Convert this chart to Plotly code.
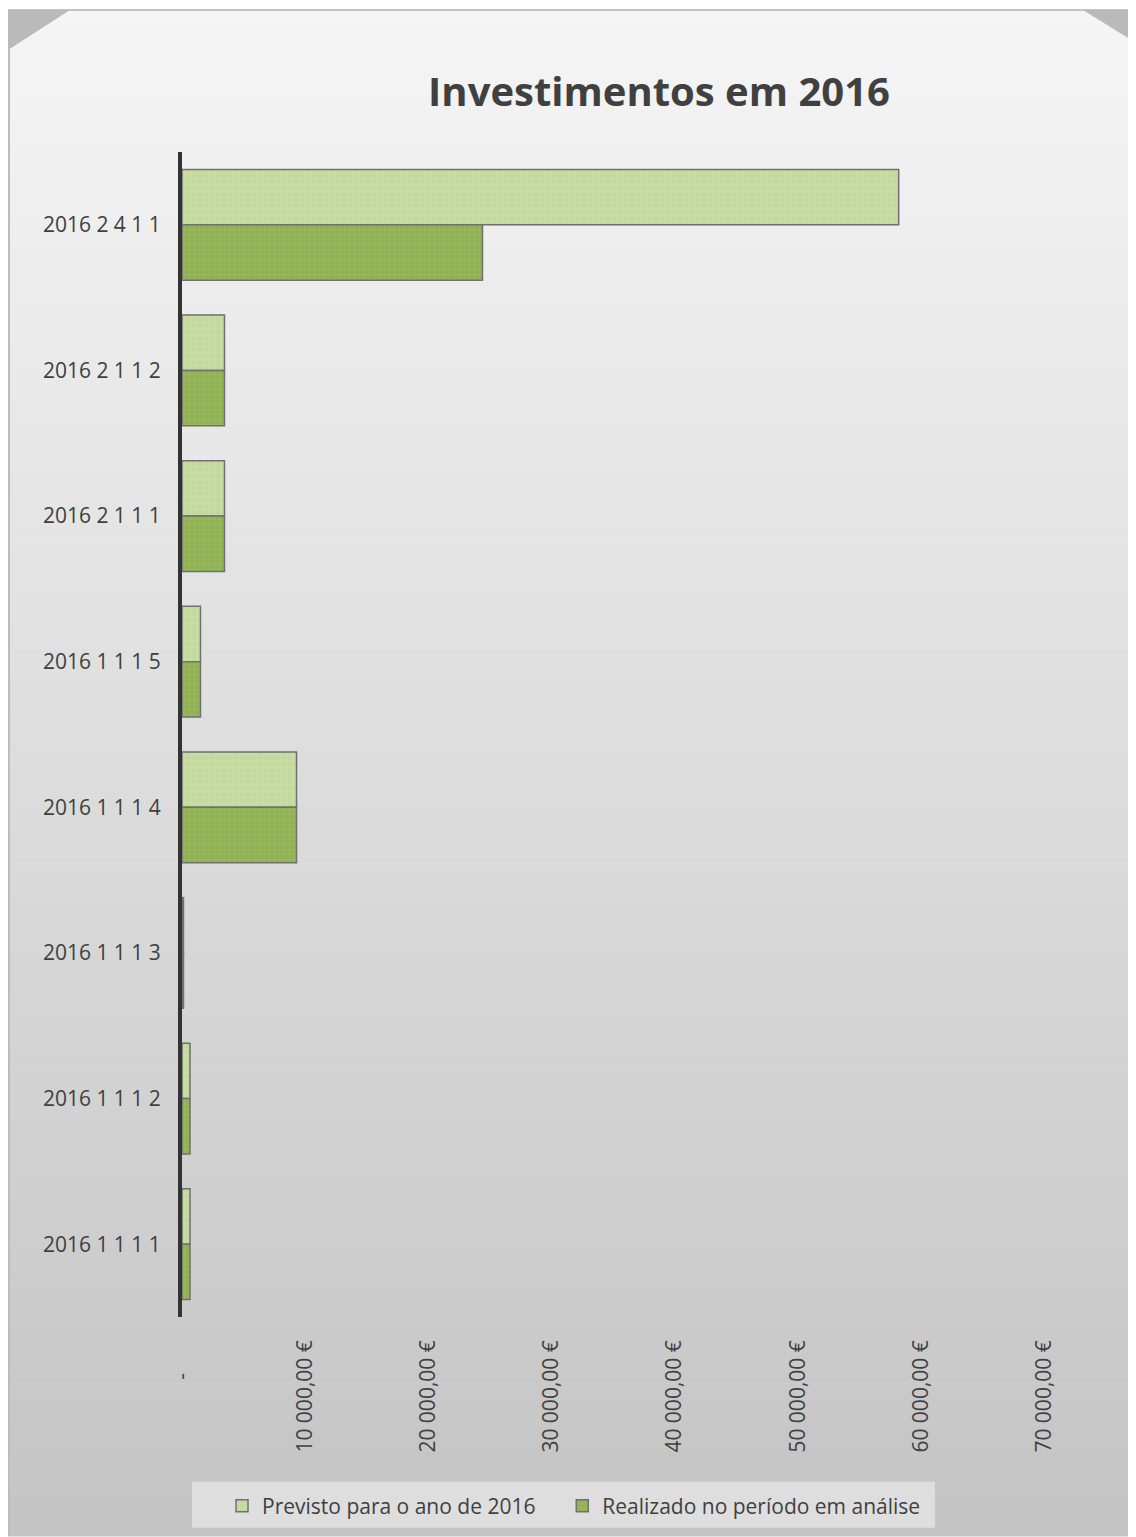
import plotly.graph_objects as go

categories = ["2016 2 4 1 1", "2016 2 1 1 2", "2016 2 1 1 1", "2016 1 1 1 5",
              "2016 1 1 1 4", "2016 1 1 1 3", "2016 1 1 1 2", "2016 1 1 1 1"]
previsto = [58200, 3450, 3450, 1500, 9300, 120, 650, 650]
realizado = [24400, 3450, 3450, 1500, 9300, 120, 650, 650]
tick_vals = [0, 10000, 20000, 30000, 40000, 50000, 60000, 70000]
tick_text = ["-\u00a0\u00a0\u00a0\u00a0\u00a0\u00a0", "10 000,00 €", "20 000,00 €", "30 000,00 €",
             "40 000,00 €", "50 000,00 €", "60 000,00 €", "70 000,00 €"]
series_names = ["Previsto para o ano de 2016", "Realizado no período em análise"]

# page body has an 8px default margin: figure is offset by OFF in the window
OFF = 8
W, H = 1136 - OFF, 1537 - OFF
ML, MR, MT, MB = 182 - OFF, 92, 152 - OFF, 219
PW, PH = W - ML - MR, H - MT - MB


def px(x):
    """window x pixel -> paper x"""
    return (x - OFF - ML) / PW


def py(y):
    """window y pixel -> paper y"""
    return (H - MB - (y - OFF)) / PH


FONT = "Open Sans"
TXT = "#404040"

fig = go.Figure()
fig.add_trace(go.Bar(
    y=categories, x=previsto, orientation="h",
    name=series_names[0] + "\u00a0" * 4,
    marker=dict(color="#c3d89c", line=dict(color="#707070", width=1.5),
                pattern=dict(shape="+", size=6, solidity=0.12, fgcolor="#ffffff", fgopacity=0.35)),
))
fig.add_trace(go.Bar(
    y=categories, x=realizado, orientation="h", name=series_names[1],
    marker=dict(color="#90b253", line=dict(color="#707070", width=1.5),
                pattern=dict(shape="+", size=5, solidity=0.12, fgcolor="#d8e6bd", fgopacity=0.35)),
))

shapes = []
# background gradient
y0, y1 = 10, 1537
n = 110
step = (y1 - y0) / n
for i in range(n):
    t = (i + 0.5) / n
    v = round(245 - (245 - 196) * t)
    shapes.append(dict(type="rect", xref="paper", yref="paper", layer="below",
                       x0=px(8), x1=px(1136), y0=py(y0 + i * step), y1=py(y0 + (i + 1) * step + 0.6),
                       fillcolor=f"rgb({v},{v},{v})", line=dict(width=0)))
# outer border lines
shapes.append(dict(type="line", xref="paper", yref="paper", layer="below",
                   x0=px(8), x1=px(1136), y0=py(10), y1=py(10), line=dict(color="#c4c4c4", width=2)))
shapes.append(dict(type="line", xref="paper", yref="paper", layer="below",
                   x0=px(9), x1=px(9), y0=py(10), y1=py(1537), line=dict(color="#bcbcbc", width=2)))
# beveled corners
shapes.append(dict(type="path", xref="paper", yref="paper", layer="below",
                   path=f"M {px(8)} {py(10)} L {px(70)} {py(10)} L {px(8)} {py(50)} Z",
                   fillcolor="#bababa", line=dict(width=0)))
shapes.append(dict(type="path", xref="paper", yref="paper", layer="below",
                   path=f"M {px(1083)} {py(10)} L {px(1136)} {py(10)} L {px(1136)} {py(43)} Z",
                   fillcolor="#bababa", line=dict(width=0)))
# legend background box
shapes.append(dict(type="rect", xref="paper", yref="paper", layer="below",
                   x0=px(192), x1=px(935), y0=py(1529), y1=py(1483),
                   fillcolor="#dedede", line=dict(width=0)))

fig.update_layout(
    width=W, height=H,
    margin=dict(l=ML, r=MR, t=MT, b=MB),
    paper_bgcolor="#ffffff",
    plot_bgcolor="rgba(0,0,0,0)",
    barmode="group", bargap=0.24, bargroupgap=0,
    font=dict(family=FONT, color=TXT, size=21),
    title=dict(text="<b>Investimentos em 2016</b>", x=(659 - OFF) / W, xanchor="center",
               y=1 - (92 - OFF) / H, yanchor="middle", yref="container", xref="container",
               font=dict(family=FONT, size=40, color=TXT)),
    xaxis=dict(range=[0, 70000], tickvals=tick_vals, ticktext=tick_text, tickangle=-90,
               showgrid=False, zeroline=False, showline=False, ticks="",
               ticklabelstandoff=18, tickfont=dict(size=21, color=TXT)),
    yaxis=dict(autorange="reversed", showgrid=False, zeroline=False, showline=True,
               linecolor="#333333", linewidth=4, ticks="", ticklabelstandoff=13,
               tickfont=dict(size=21, color=TXT), categoryorder="array", categoryarray=categories),
    legend=dict(orientation="h", x=px(222), xanchor="left", y=py(1506), yanchor="middle",
                bgcolor="rgba(0,0,0,0)", font=dict(size=21, color=TXT),
                traceorder="normal"),
    shapes=shapes,
    showlegend=True,
)

fig.write_html("out.html")
